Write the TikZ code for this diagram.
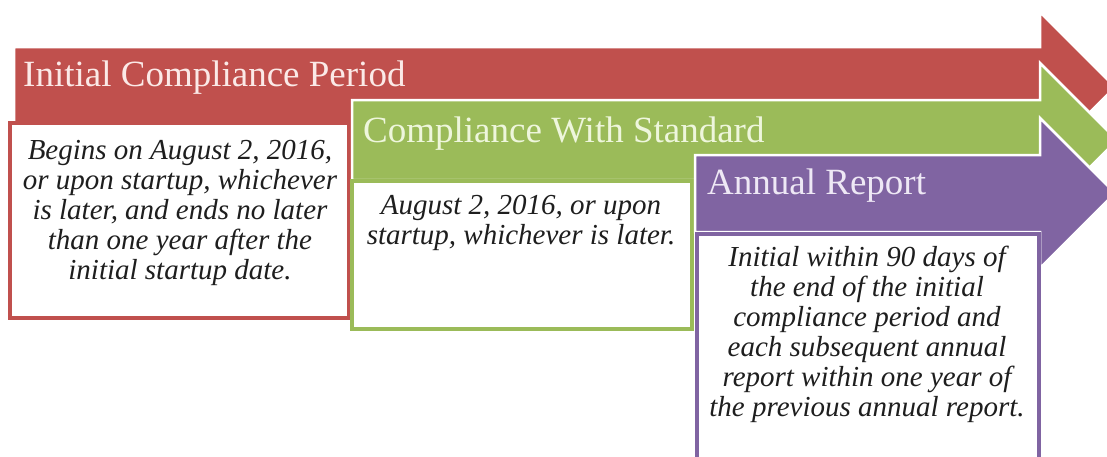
\documentclass[tikz,border=0pt]{standalone}
\usepackage{fontspec}
\setmainfont{Liberation Serif}
\definecolor{cred}{HTML}{C0504D}
\definecolor{cgreen}{HTML}{9BBB59}
\definecolor{cpurple}{HTML}{8064A2}
\definecolor{tred}{HTML}{FBE9E7}
\definecolor{tgreen}{HTML}{EEF6DC}
\definecolor{tpurple}{HTML}{EEE8F5}
\definecolor{btext}{HTML}{1E1E1E}
\tikzset{
  arrowshape/.style={draw=white, line width=2.5pt, line join=miter},
  infobox/.style={fill=white, line width=3.5pt},
  titletext/.style={anchor=base west, inner sep=0pt, font=\fontsize{37}{40}\selectfont},
  bodytext/.style={anchor=north, inner sep=0pt, align=center, text=btext,
    font=\fontsize{29}{30}\selectfont\itshape}
}
\begin{document}
\begin{tikzpicture}[x=1pt,y=-1pt]
\clip (0,0) rectangle (1107,456);
\fill[white] (0,0) rectangle (1107,456);
% red arrow and box
\filldraw[arrowshape, fill=cred] (14,47) -- (1040,47) -- (1040,12) -- (1115,87) -- (1040,162) -- (1040,127) -- (14,127) -- cycle;
\draw[infobox, draw=cred] (10,123) rectangle (349,318);
\node[titletext, text=tred] (t1) at (23,86) {Initial Compliance Period};
\node[bodytext] (b1) at (180,140) {Begins on August 2, 2016,\\or upon startup, whichever\\is later, and ends no later\\than one year after the\\initial startup date.};
% green arrow and box
\filldraw[arrowshape, fill=cgreen] (352,100) -- (1040,100) -- (1040,63) -- (1117,140) -- (1040,217) -- (1040,180) -- (352,180) -- cycle;
\draw[infobox, draw=cgreen] (352,181) rectangle (692,329);
\node[titletext, text=tgreen] (t2) at (363,142) {Compliance With Standard};
\node[bodytext] (b2) at (521,195) {August 2, 2016, or upon\\startup, whichever is later.};
% purple arrow and box
\filldraw[arrowshape, fill=cpurple] (695,155) -- (1040,155) -- (1040,118) -- (1115,193) -- (1040,268) -- (1040,232) -- (695,232) -- cycle;
\draw[infobox, draw=cpurple] (697,234) rectangle (1039,470);
\node[titletext, text=tpurple] (t3) at (707,194) {Annual Report};
\node[bodytext] (b3) at (867,246) {Initial within 90 days of\\the end of the initial\\compliance period and\\each subsequent annual\\report within one year of\\the previous annual report.};
\end{tikzpicture}
\end{document}
